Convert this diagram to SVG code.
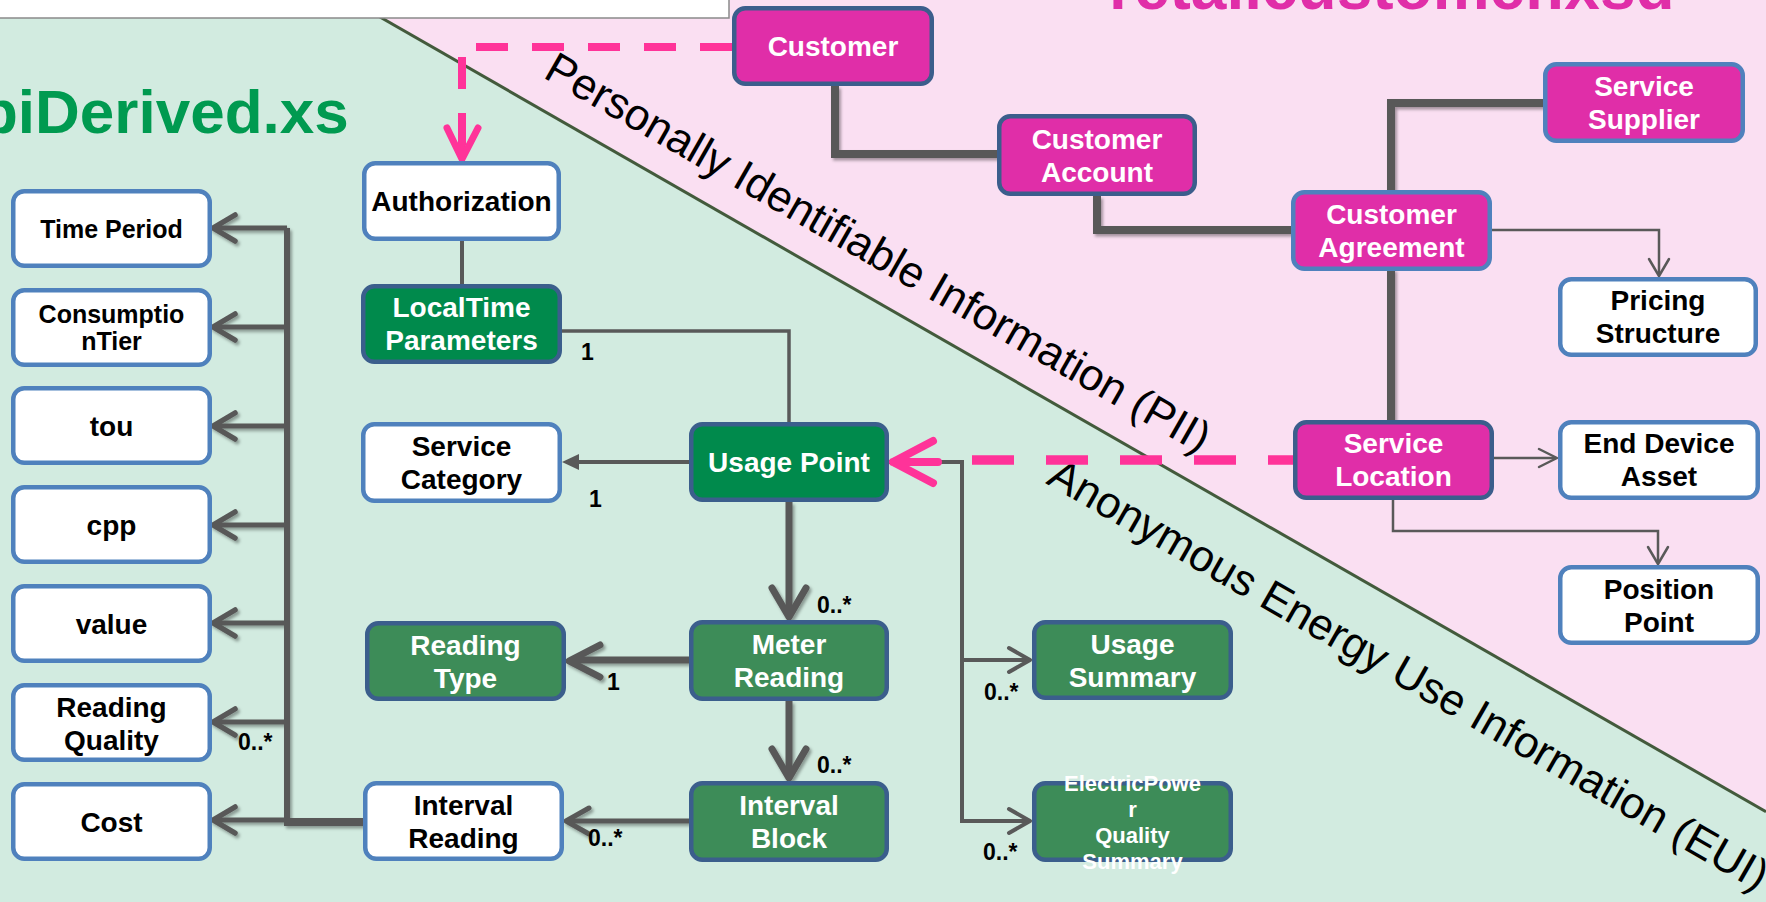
<svg xmlns="http://www.w3.org/2000/svg" width="1766" height="902" viewBox="0 0 1766 902">
  <defs>
    <filter id="sh" x="-20%" y="-20%" width="140%" height="140%">
      <feDropShadow dx="2" dy="2.5" stdDeviation="1.6" flood-color="#000" flood-opacity="0.35"/>
    </filter>
    <style>
      .box { stroke-width: 4.5; }
      .wht { fill: #ffffff; stroke: #4f81bd; }
      .grn { fill: #008a4c; stroke: #3b5e8c; }
      .grn2 { fill: #3d8c58; stroke: #3b5e8c; }
      .mag { fill: #e02ea8; stroke: #3b5e8c; }
      .mag2 { fill: #e02ea8; stroke: #4f81bd; }
      text { font-family: "Liberation Sans", Arial, sans-serif; }
      .lb { font-size: 28px; font-weight: bold; text-anchor: middle; fill: #000; }
      .lw { font-size: 28px; font-weight: bold; text-anchor: middle; fill: #fff; }
      .sm { font-size: 25px; }
      .xs { font-size: 22px; }
      .card { font-size: 23px; font-weight: bold; fill: #000; }
      .ln { fill: none; stroke: #595959; stroke-linecap: butt; stroke-linejoin: miter; }
      .ah { fill: none; stroke: #595959; stroke-linecap: round; stroke-linejoin: round; }
      .pk { fill: none; stroke: #ff3399; }
      .band { font-size: 44px; fill: #000; }
    </style>
  </defs>

  <!-- background zones -->
  <rect x="0" y="0" width="1766" height="902" fill="#d2ebe0"/>
  <polygon points="350.3,0 1766,0 1766,811.7" fill="#fadff2"/>
  <line x1="350.3" y1="0" x2="1766" y2="811.7" stroke="#435a3c" stroke-width="3"/>
  <rect x="-2" y="-2" width="731" height="20" fill="#ffffff" stroke="#8a8a8a" stroke-width="1.5"/>

  <!-- schema titles -->
  <text x="-20" y="133" font-size="62" font-weight="bold" fill="#009a50">piDerived.xs</text>
  <text x="1109" y="8.5" font-size="64" font-weight="bold" fill="#e02ea8">retailcustomer.xsd</text>

  <!-- privacy band labels -->
  <text class="band" transform="translate(542,77) rotate(29.83)">Personally Identifiable Information (PII)</text>
  <text class="band" transform="translate(1045,483) rotate(29.83)">Anonymous Energy Use Information (EUI)</text>

  <g id="connectors">
    <!-- retail customer associations -->
    <g filter="url(#sh)">
      <path class="ln" stroke-width="8" d="M835,86 V154 H999"/>
      <path class="ln" stroke-width="8" d="M1097,196 V230 H1293"/>
      <path class="ln" stroke-width="8" d="M1391,192 V103 H1545"/>
      <path class="ln" stroke-width="8" d="M1391,269 V422"/>
    </g>
    <path class="ln" stroke-width="2.5" d="M1492,230 H1659 V275"/>
    <path class="ah" stroke-width="2.5" d="M1649,259 L1659,276 L1669,259"/>
    <path class="ln" stroke-width="2.5" d="M1494,458 H1556"/>
    <path class="ah" stroke-width="2.5" d="M1539,449 L1557,458 L1539,467"/>
    <path class="ln" stroke-width="2.5" d="M1393,500 V531 H1658 V562"/>
    <path class="ah" stroke-width="2.5" d="M1648,547 L1658,564 L1668,547"/>

    <!-- authorization / usage point -->
    <path class="ln" stroke-width="4" d="M462,241 V286"/>
    <path class="ln" stroke-width="3.5" d="M560,331 H789 V424"/>
    <path class="ln" stroke-width="4" d="M689,462 H576"/>
    <path d="M562,462 L579,454 L579,470 Z" fill="#595959"/>

    <g filter="url(#sh)">
      <path class="ln" stroke-width="7" d="M789,502 V614"/>
      <path class="ah" stroke-width="7" d="M772,588 L789,617 L806,588"/>
      <path class="ln" stroke-width="7" d="M789,701 V775"/>
      <path class="ah" stroke-width="7" d="M772,749 L789,778 L806,749"/>
      <path class="ln" stroke-width="7" d="M689,660 H572"/>
      <path class="ah" stroke-width="7" d="M600,645 L569,661 L600,677"/>
      <path class="ln" stroke-width="5" d="M689,821 H568"/>
      <path class="ah" stroke-width="5" d="M589,808 L566,821 L589,834"/>
    </g>

    <!-- usage point to summaries -->
    <path class="ln" stroke-width="4" d="M889,462 H962 V821 H1028"/>
    <path class="ln" stroke-width="4" d="M962,660 H1028"/>
    <path class="ah" stroke-width="4" d="M1009,648 L1030,660 L1009,672"/>
    <path class="ah" stroke-width="4" d="M1009,809 L1030,821 L1009,833"/>

    <!-- interval reading attributes -->
    <g filter="url(#sh)">
      <path class="ln" stroke-width="6" d="M287,228 V825"/>
      <path class="ln" stroke-width="8" d="M365,822 H284"/>
      <path class="ln" stroke-width="5" d="M287,228 H215 M287,327 H215 M287,426 H215 M287,525 H215 M287,623 H215 M287,722 H215 M287,820 H215"/>
      <path class="ah" stroke-width="5.5" d="M235,215 L213,228 L235,241 M235,314 L213,327 L235,340 M235,413 L213,426 L235,439 M235,512 L213,525 L235,538 M235,610 L213,623 L235,636 M235,709 L213,722 L235,735 M235,807 L213,820 L235,833"/>
    </g>

    <!-- PII to EUI links -->
    <path class="pk" stroke-width="8" stroke-dasharray="32 24" d="M732,47 H462 V150"/>
    <path class="pk" stroke-width="7" d="M462,140 V157"/>
    <path class="pk" stroke-width="7" stroke-linecap="round" stroke-linejoin="round" d="M447,128 L462,159 L478,128"/>
    <path class="pk" stroke-width="9.5" stroke-dasharray="42 32" d="M1310,460 H972"/>
    <path class="pk" stroke-width="8" stroke-linecap="round" stroke-linejoin="round" d="M933,441 L893,462 L933,483 M893,462 H938"/>

    <!-- multiplicities -->
    <text class="card" x="581" y="360">1</text>
    <text class="card" x="589" y="507">1</text>
    <text class="card" x="817" y="613">0..*</text>
    <text class="card" x="607" y="690">1</text>
    <text class="card" x="817" y="773">0..*</text>
    <text class="card" x="588" y="846">0..*</text>
    <text class="card" x="984" y="700">0..*</text>
    <text class="card" x="983" y="860">0..*</text>
    <text class="card" x="238" y="750">0..*</text>
  </g>

  <!-- interval reading attribute boxes -->
  <g id="time-period"><rect class="box wht" x="13.25" y="191.25" width="196.5" height="74.5" rx="11"/><text class="lb sm" x="111.5" y="237.5">Time Period</text></g>
  <g id="consumption-tier"><rect class="box wht" x="13.25" y="290.25" width="196.5" height="74.5" rx="11"/><text class="lb sm" x="111.5" y="322.5">Consumptio</text><text class="lb sm" x="111.5" y="349.5">nTier</text></g>
  <g id="tou"><rect class="box wht" x="13.25" y="388.25" width="196.5" height="74.5" rx="11"/><text class="lb" x="111.5" y="435.5">tou</text></g>
  <g id="cpp"><rect class="box wht" x="13.25" y="487.25" width="196.5" height="74.5" rx="11"/><text class="lb" x="111.5" y="534.5">cpp</text></g>
  <g id="value"><rect class="box wht" x="13.25" y="586.25" width="196.5" height="74.5" rx="11"/><text class="lb" x="111.5" y="633.5">value</text></g>
  <g id="reading-quality"><rect class="box wht" x="13.25" y="685.25" width="196.5" height="74.5" rx="11"/><text class="lb" x="111.5" y="716.5">Reading</text><text class="lb" x="111.5" y="749.5">Quality</text></g>
  <g id="cost"><rect class="box wht" x="13.25" y="784.25" width="196.5" height="74.5" rx="11"/><text class="lb" x="111.5" y="831.5">Cost</text></g>

  <!-- usage data classes -->
  <g id="authorization"><rect class="box wht" x="364.25" y="163.25" width="194.5" height="75.5" rx="11"/><text class="lb" x="461.5" y="211">Authorization</text></g>
  <g id="local-time-parameters"><rect class="box grn" x="363.25" y="286.25" width="196.5" height="75.5" rx="11"/><text class="lw" x="461.5" y="317">LocalTime</text><text class="lw" x="461.5" y="350">Parameters</text></g>
  <g id="service-category"><rect class="box wht" x="363.25" y="424.25" width="196.5" height="76.5" rx="11"/><text class="lb" x="461.5" y="456">Service</text><text class="lb" x="461.5" y="489">Category</text></g>
  <g id="usage-point"><rect class="box grn" x="691.25" y="424.25" width="195.5" height="75.5" rx="11"/><text class="lw" x="789" y="472">Usage Point</text></g>
  <g id="meter-reading"><rect class="box grn2" x="691.25" y="622.25" width="195.5" height="76.5" rx="11"/><text class="lw" x="789" y="654">Meter</text><text class="lw" x="789" y="687">Reading</text></g>
  <g id="interval-block"><rect class="box grn2" x="691.25" y="783.25" width="195.5" height="76.5" rx="11"/><text class="lw" x="789" y="815">Interval</text><text class="lw" x="789" y="848">Block</text></g>
  <g id="reading-type"><rect class="box grn2" x="367.25" y="623.25" width="196.5" height="75.5" rx="11"/><text class="lw" x="465.5" y="655">Reading</text><text class="lw" x="465.5" y="688">Type</text></g>
  <g id="interval-reading"><rect class="box wht" x="365.25" y="783.25" width="196.5" height="75.5" rx="11"/><text class="lb" x="463.5" y="815">Interval</text><text class="lb" x="463.5" y="848">Reading</text></g>
  <g id="usage-summary"><rect class="box grn2" x="1034.25" y="622.25" width="196.5" height="75.5" rx="11"/><text class="lw" x="1132.5" y="654">Usage</text><text class="lw" x="1132.5" y="687">Summary</text></g>
  <g id="electric-power-quality-summary"><rect class="box grn2" x="1034.25" y="783.25" width="196.5" height="76.5" rx="11"/><text class="lw xs" x="1132.5" y="791">ElectricPowe</text><text class="lw xs" x="1132.5" y="817">r</text><text class="lw xs" x="1132.5" y="843">Quality</text><text class="lw xs" x="1132.5" y="869">Summary</text></g>

  <!-- retail customer classes -->
  <g id="customer"><rect class="box mag" x="734.25" y="8.25" width="197.5" height="75.5" rx="11"/><text class="lw" x="833" y="56">Customer</text></g>
  <g id="customer-account"><rect class="box mag" x="999.25" y="116.25" width="195.5" height="77.5" rx="11"/><text class="lw" x="1097" y="149">Customer</text><text class="lw" x="1097" y="182">Account</text></g>
  <g id="customer-agreement"><rect class="box mag2" x="1293.25" y="192.25" width="196.5" height="76.5" rx="11"/><text class="lw" x="1391.5" y="224">Customer</text><text class="lw" x="1391.5" y="257">Agreement</text></g>
  <g id="service-supplier"><rect class="box mag2" x="1545.25" y="64.25" width="197.5" height="76.5" rx="11"/><text class="lw" x="1644" y="96">Service</text><text class="lw" x="1644" y="129">Supplier</text></g>
  <g id="pricing-structure"><rect class="box wht" x="1560.25" y="279.25" width="195.5" height="75.5" rx="11"/><text class="lb" x="1658" y="310">Pricing</text><text class="lb" x="1658" y="343">Structure</text></g>
  <g id="service-location"><rect class="box mag" x="1295.25" y="422.25" width="196.5" height="75.5" rx="11"/><text class="lw" x="1393.5" y="453">Service</text><text class="lw" x="1393.5" y="486">Location</text></g>
  <g id="end-device-asset"><rect class="box wht" x="1560.25" y="422.25" width="197.5" height="75.5" rx="11"/><text class="lb" x="1659" y="453">End Device</text><text class="lb" x="1659" y="486">Asset</text></g>
  <g id="position-point"><rect class="box wht" x="1560.25" y="567.25" width="197.5" height="75.5" rx="11"/><text class="lb" x="1659" y="599">Position</text><text class="lb" x="1659" y="632">Point</text></g>
</svg>
